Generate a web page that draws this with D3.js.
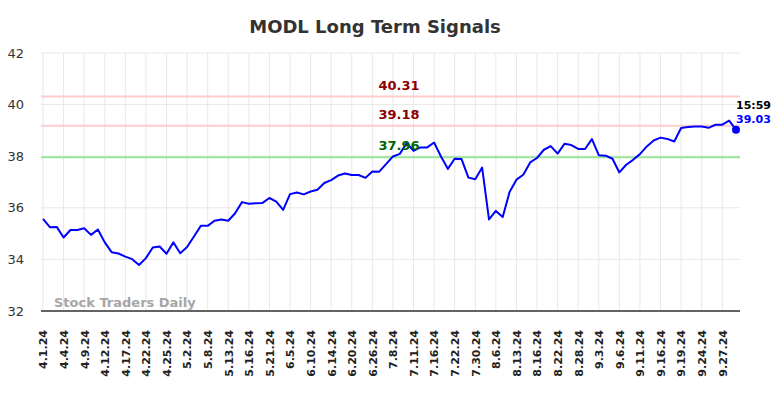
<!DOCTYPE html>
<html>
<head>
<meta charset="utf-8">
<script src="https://cdn.jsdelivr.net/npm/d3@7"></script>
<style>
  body { margin: 0; background: #fff; }
  svg { display: block; font-family: "DejaVu Sans", sans-serif; }
</style>
</head>
<body>
<svg id="chart" width="784" height="398"></svg>
<script>
// closing prices, one per trading day
const prices = [
  35.57, 35.25, 35.26, 34.85, 35.14, 35.14, 35.21, 34.95, 35.16, 34.66,
  34.28, 34.23, 34.11, 34.01, 33.78, 34.05, 34.46, 34.50, 34.22, 34.66,
  34.24, 34.48, 34.89, 35.30, 35.30, 35.50, 35.55, 35.50, 35.79, 36.22,
  36.16, 36.18, 36.19, 36.38, 36.24, 35.92, 36.53, 36.59, 36.52, 36.63,
  36.70, 36.96, 37.07, 37.25, 37.33, 37.27, 37.27, 37.16, 37.41, 37.40,
  37.69, 37.99, 38.09, 38.51, 38.21, 38.34, 38.34, 38.53, 37.99, 37.51,
  37.90, 37.89, 37.17, 37.11, 37.56, 35.55, 35.88, 35.64, 36.61, 37.09,
  37.28, 37.76, 37.93, 38.25, 38.39, 38.10, 38.48, 38.43, 38.28, 38.28,
  38.66, 38.04, 38.02, 37.90, 37.37, 37.67, 37.86, 38.08, 38.38, 38.61,
  38.72, 38.67, 38.57, 39.09, 39.13, 39.15, 39.15, 39.10, 39.22, 39.22,
  39.38, 39.03
];

// one label every third trading day
const tickLabels = [
  "4.1.24", "4.4.24", "4.9.24", "4.12.24", "4.17.24", "4.22.24", "4.25.24",
  "5.2.24", "5.8.24", "5.13.24", "5.16.24", "5.21.24", "6.5.24", "6.10.24",
  "6.14.24", "6.20.24", "6.26.24", "7.8.24", "7.11.24", "7.16.24", "7.22.24",
  "7.30.24", "8.6.24", "8.13.24", "8.16.24", "8.22.24", "8.28.24", "9.3.24",
  "9.6.24", "9.11.24", "9.16.24", "9.19.24", "9.24.24", "9.27.24"
];
const tickStep = 3;

const yTicks = [32, 34, 36, 38, 40, 42];

const signals = [
  { value: 40.31, line: "#ffcccc", text: "#8b0000" },
  { value: 39.18, line: "#ffcccc", text: "#8b0000" },
  { value: 37.96, line: "#99e699", text: "#006400" }
];

const lastTime = "15:59";

const width = 784, height = 398;
const margin = { top: 53, right: 44, bottom: 87, left: 41 };

const svg = d3.select("#chart");

const x = d3.scaleLinear()
  .domain([0, prices.length - 1])
  .range([margin.left + 2, width - margin.right - 4]);

const y = d3.scaleLinear()
  .domain([32, 42])
  .range([height - margin.bottom, margin.top]);

const tickIdx = tickLabels.map((d, i) => i * tickStep);

// grid
const grid = svg.append("g").attr("stroke", "#e8e8e8").attr("stroke-width", 1);
grid.selectAll(".hg").data(yTicks).enter().append("line")
  .attr("x1", margin.left).attr("x2", width - margin.right)
  .attr("y1", d => y(d)).attr("y2", d => y(d));
grid.selectAll(".vg").data(tickIdx).enter().append("line")
  .attr("x1", d => x(d)).attr("x2", d => x(d))
  .attr("y1", margin.top).attr("y2", height - margin.bottom);

// signal lines
svg.append("g").selectAll("line").data(signals).enter().append("line")
  .attr("x1", margin.left).attr("x2", width - margin.right)
  .attr("y1", d => y(d.value)).attr("y2", d => y(d.value))
  .attr("stroke", d => d.line)
  .attr("stroke-width", 2);

// watermark
svg.append("text")
  .attr("x", 54).attr("y", 307)
  .attr("font-size", 13).attr("font-weight", "bold")
  .attr("fill", "#a6a6a6")
  .text("Stock Traders Daily");

// price line
const line = d3.line()
  .x((d, i) => x(i))
  .y(d => y(d));

svg.append("path")
  .datum(prices)
  .attr("fill", "none")
  .attr("stroke", "#0000ff")
  .attr("stroke-width", 2)
  .attr("stroke-linejoin", "round")
  .attr("d", line);

// signal labels
svg.append("g").selectAll("text").data(signals).enter().append("text")
  .attr("x", 399)
  .attr("y", d => y(d.value) - 7)
  .attr("text-anchor", "middle")
  .attr("font-size", 13).attr("font-weight", "bold")
  .attr("fill", d => d.text)
  .text(d => d.value.toFixed(2));

// x axis
const xAxis = d3.axisBottom(x)
  .tickValues(tickIdx)
  .tickFormat((d, i) => tickLabels[i])
  .tickSize(0);

const gx = svg.append("g")
  .attr("transform", "translate(0," + (height - margin.bottom) + ")")
  .call(xAxis);
gx.select(".domain")
  .attr("stroke", "#333")
  .attr("stroke-width", 1.5)
  .attr("d", "M" + margin.left + ",0H" + (width - margin.right));
gx.selectAll("text")
  .attr("font-size", 11)
  .attr("font-weight", "bold")
  .attr("font-family", "DejaVu Sans")
  .attr("fill", "#222")
  .attr("text-anchor", "end")
  .attr("transform", "rotate(-90)")
  .attr("x", -19)
  .attr("y", 0)
  .attr("dy", "0.35em");

// y axis
const yAxis = d3.axisLeft(y).tickValues(yTicks).tickSize(0).tickPadding(0);
const gy = svg.append("g")
  .attr("transform", "translate(24,0)")
  .call(yAxis);
gy.select(".domain").remove();
gy.selectAll("text")
  .attr("font-size", 13)
  .attr("font-family", "DejaVu Sans")
  .attr("fill", "#333");

// last point
const last = prices.length - 1;
svg.append("circle")
  .attr("cx", x(last)).attr("cy", y(prices[last]))
  .attr("r", 4)
  .attr("fill", "#0000ff");

svg.append("text")
  .attr("x", 736).attr("y", 109)
  .attr("font-size", 11).attr("font-weight", "bold")
  .attr("fill", "#000")
  .text(lastTime);

svg.append("text")
  .attr("x", 736).attr("y", 123)
  .attr("font-size", 11).attr("font-weight", "bold")
  .attr("fill", "#0000ff")
  .text(prices[last].toFixed(2));

// title
svg.append("text")
  .attr("x", 375).attr("y", 33)
  .attr("text-anchor", "middle")
  .attr("font-size", 18).attr("font-weight", "bold")
  .attr("fill", "#333")
  .text("MODL Long Term Signals");
</script>
</body>
</html>
